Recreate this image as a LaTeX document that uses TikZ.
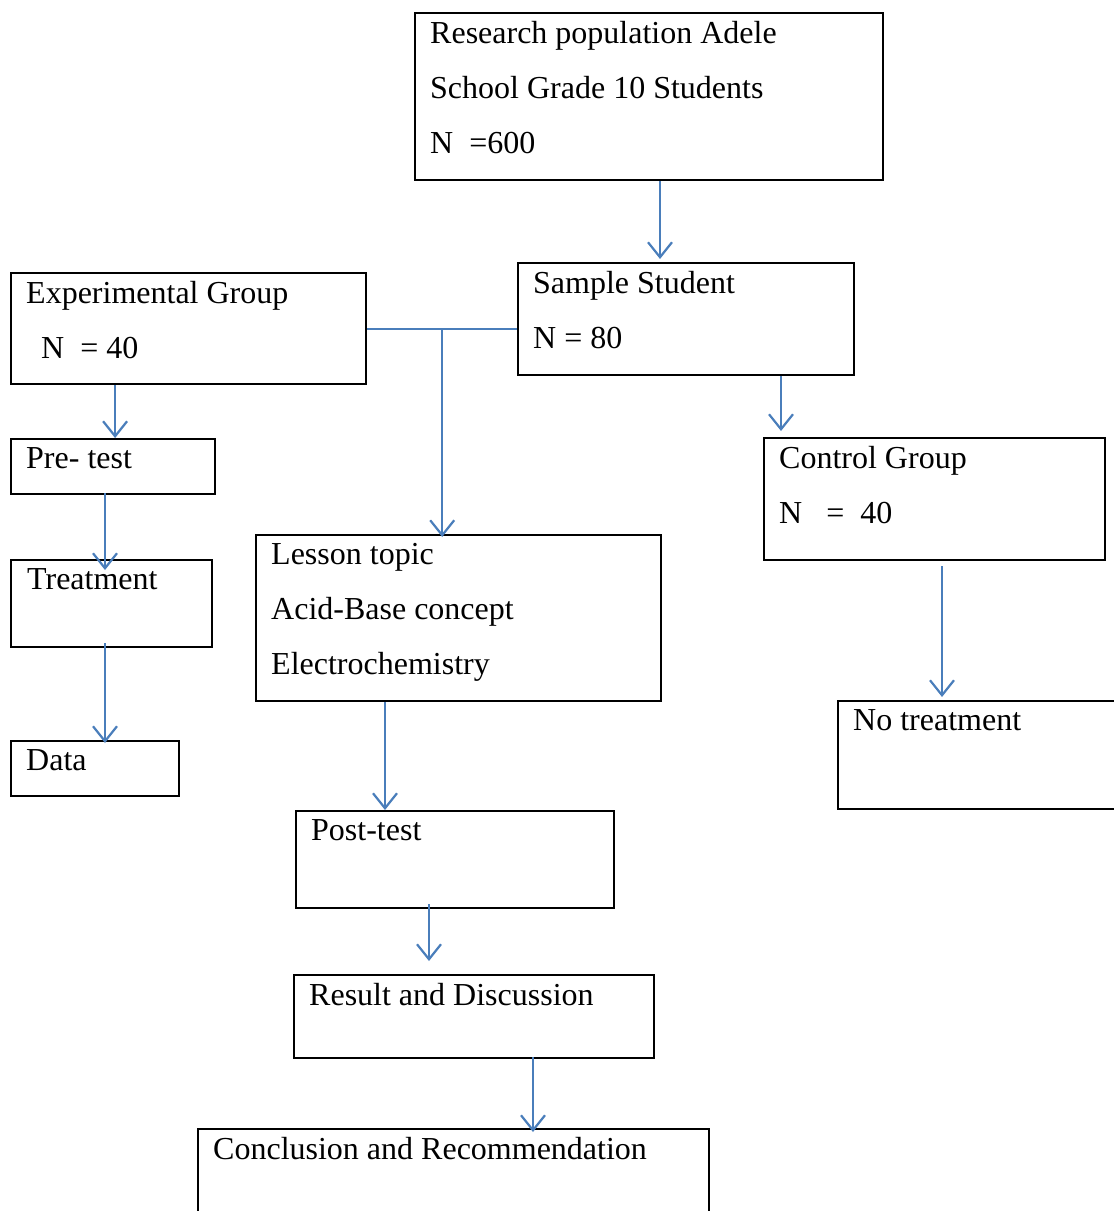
\documentclass[tikz,border=0pt]{standalone}
\usepackage{fontspec}
\setmainfont{Liberation Serif}
\usetikzlibrary{arrows.meta}
\definecolor{ArrowBlue}{HTML}{4A7EBB}

\begin{document}
\begin{tikzpicture}[x=1pt, y=-1pt,
    box/.style={draw, line width=2.2pt, anchor=north west, inner sep=0pt},
    txt/.style={anchor=north west, inner sep=0pt, align=left, font=\fontsize{32}{55}\selectfont},
    arr/.style={-{Straight Barb[length=15pt, width=24pt]}, ArrowBlue, line width=2.2pt}]
  \useasboundingbox (0,0) rectangle (1114,1211);

  % Boxes
  \node[box, minimum width=468, minimum height=167] (pop) at (414,12) {};
  \node[box, minimum width=336, minimum height=112] (sample) at (517,262) {};
  \node[box, minimum width=355, minimum height=111] (exp) at (10,272) {};
  \node[box, minimum width=204, minimum height=55] (pre) at (10,438) {};
  \node[box, minimum width=201, minimum height=87] (treat) at (10,559) {};
  \node[box, minimum width=168, minimum height=55] (data) at (10,740) {};
  \node[box, minimum width=405, minimum height=166] (lesson) at (255,534) {};
  \node[box, minimum width=341, minimum height=122] (control) at (763,437) {};
  \node[box, minimum width=320, minimum height=108] (notreat) at (837,700) {};
  \node[box, minimum width=318, minimum height=97] (post) at (295,810) {};
  \node[box, minimum width=360, minimum height=83] (result) at (293,974) {};
  \node[box, minimum width=511, minimum height=120] (concl) at (197,1128) {};

  % Texts
  \node[txt] (popt) at ([shift={(16,9)}]pop.north west) {Research population Adele\\School Grade 10 Students\\N~~=600};
  \node[txt] (samplet) at ([shift={(16,9)}]sample.north west) {Sample Student\\N = 80};
  \node[txt] (expt) at ([shift={(16,9)}]exp.north west) {Experimental Group\\\hspace*{15pt}N~~= 40};
  \node[txt] (pret) at ([shift={(16,9)}]pre.north west) {Pre- test};
  \node[txt] (treatt) at ([shift={(17,9)}]treat.north west) {Treatment};
  \node[txt] (datat) at ([shift={(16,9)}]data.north west) {Data};
  \node[txt] (lessont) at ([shift={(16,9)}]lesson.north west) {Lesson topic\\Acid-Base concept\\Electrochemistry};
  \node[txt] (controlt) at ([shift={(16,9)}]control.north west) {Control Group\\N~~~=~~40};
  \node[txt] (notreatt) at ([shift={(16,9)}]notreat.north west) {No treatment};
  \node[txt] (postt) at ([shift={(16,9)}]post.north west) {Post-test};
  \node[txt] (resultt) at ([shift={(16,9)}]result.north west) {Result and Discussion};
  \node[txt] (conclt) at ([shift={(16,9)}]concl.north west) {Conclusion and Recommendation};

  % Connectors
  \draw[arr, shorten >=3pt] ([xshift=246]pop.south west) -- ([xshift=246]pop.south west |- sample.north);
  \draw[ArrowBlue, line width=2.2pt] (exp.east) -- (exp.east -| sample.west);
  \coordinate (fork) at ([xshift=75]exp.east);
  \draw[arr, shorten >=-3pt] (fork) -- (fork |- lesson.north);
  \draw[arr, shorten >=6pt] ([xshift=264]sample.south west) -- ([xshift=264]sample.south west |- control.north);
  \draw[arr] ([xshift=2]pre.north |- exp.south) -- ([xshift=2]pre.north);
  \draw[arr, shorten >=-11pt] ([xshift=95,yshift=2]pre.south west) -- ([xshift=95]pre.south west |- treat.north);
  \draw[arr, shorten >=-3pt] ([xshift=95,yshift=5]treat.south west) -- ([xshift=95]treat.south west |- data.north);
  \draw[arr, shorten >=3pt] ([xshift=179,yshift=-5]control.south west) -- ([xshift=179]control.south west |- notreat.north);
  \draw[arr] ([xshift=130]lesson.south west) -- ([xshift=130]lesson.south west |- post.north);
  \draw[arr, shorten >=13pt] ([xshift=134,yshift=5]post.south west) -- ([xshift=134]post.south west |- result.north);
  \draw[arr, shorten >=-4pt] ([xshift=240,yshift=2]result.south west) -- ([xshift=240]result.south west |- concl.north);
\end{tikzpicture}
\end{document}
